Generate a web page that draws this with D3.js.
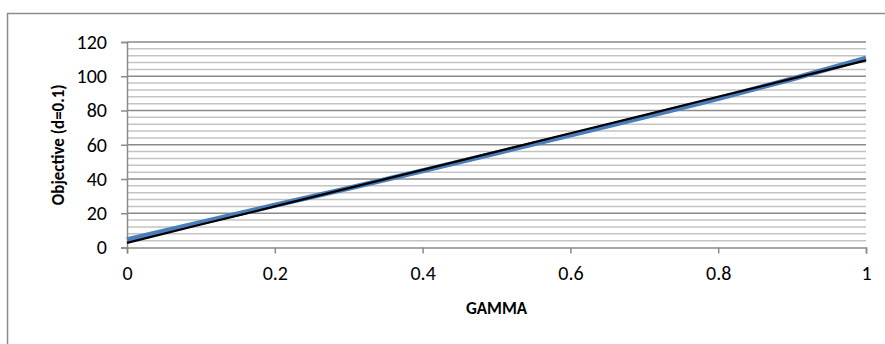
<!DOCTYPE html>
<html><head><meta charset="utf-8">
<script src="https://cdn.jsdelivr.net/npm/d3@7"></script>
<style>body{margin:0;background:#fff}svg{display:block}text{font-family:Carlito,Calibri,Lato,sans-serif}</style>
</head><body>
<script>
const gamma = [0, 0.1, 0.2, 0.3, 0.4, 0.5, 0.6, 0.7, 0.8, 0.9, 1];
const blueSeries = [4.5, 14.6, 24.7, 34.6, 44.8, 55.2, 65.6, 76.2, 87.0, 98.4, 110.5];
const blackSeries = [2.7, 13.4, 24.0, 34.7, 45.3, 56.0, 66.7, 77.3, 88.0, 98.6, 109.3];
const xTicks = [0, 0.2, 0.4, 0.6, 0.8, 1];
const yTicks = [0, 20, 40, 60, 80, 100, 120];
const yMinor = d3.range(0, 121, 4);
const xTitle = "GAMMA";
const yTitle = "Objective (d=0.1)";

const W = 885, H = 344;
const L = 127, R = 866, T = 42, B = 247.5;
const svg = d3.select("body").append("svg").attr("width", W).attr("height", H);

// outer frame
svg.append("path").attr("d", `M7.5,${H} V13.5 H${W}`).attr("fill", "none").attr("stroke", "#8c8c8c").attr("stroke-width", 1.5);

const x = d3.scaleLinear().domain([0, 1]).range([L, R]);
const y = d3.scaleLinear().domain([0, 120]).range([B, T]);

// minor grid
svg.append("g").selectAll("line").data(yMinor.filter(v => v % 20 !== 0)).join("line")
  .attr("x1", L).attr("x2", R).attr("y1", d => y(d)).attr("y2", d => y(d))
  .attr("stroke", "#c3c3c3").attr("stroke-width", 1.5);
// major grid
svg.append("g").selectAll("line").data(yTicks.filter(v => v > 0)).join("line")
  .attr("x1", L).attr("x2", R).attr("y1", d => y(d)).attr("y2", d => y(d))
  .attr("stroke", "#8a8a8a").attr("stroke-width", 1.5);

// y axis
const ya = svg.append("g").attr("transform", `translate(${L},0)`)
  .call(d3.axisLeft(y).tickValues(yTicks).tickSize(6).tickPadding(14).tickFormat(d3.format("d")));
ya.select(".domain").attr("stroke", "#8a8a8a").attr("stroke-width", 1.5);
ya.selectAll(".tick line").attr("stroke", "#8a8a8a").attr("stroke-width", 1.5);
ya.selectAll("text").attr("font-size", 20).attr("fill", "#000").attr("font-family", "Carlito,Calibri,Lato,sans-serif");

// x axis
const xa = svg.append("g").attr("transform", `translate(0,${B})`)
  .call(d3.axisBottom(x).tickValues(xTicks).tickSize(6).tickPadding(12).tickFormat(d => d3.format("")(d)));
xa.select(".domain").attr("stroke", "#8a8a8a").attr("stroke-width", 1.5);
xa.selectAll(".tick line").attr("stroke", "#8a8a8a").attr("stroke-width", 1.5);
xa.selectAll("text").attr("font-size", 20).attr("fill", "#000").attr("font-family", "Carlito,Calibri,Lato,sans-serif");

const line = d3.line().x((d, i) => x(gamma[i])).y(d => y(d));
svg.append("path").datum(blueSeries).attr("d", line).attr("fill", "none")
  .attr("stroke", "#4a7ebb").attr("stroke-width", 5);
svg.append("path").datum(blackSeries).attr("d", line).attr("fill", "none")
  .attr("stroke", "#000").attr("stroke-width", 2.2);

svg.append("text").attr("x", (L + R) / 2).attr("y", 314).attr("text-anchor", "middle")
  .attr("font-size", 17).attr("font-weight", "bold").text(xTitle);
svg.append("text").attr("transform", `translate(64,${(T + B) / 2}) rotate(-90)`).attr("text-anchor", "middle")
  .attr("font-size", 17).attr("font-weight", "bold").text(yTitle);
</script>
</body></html>
